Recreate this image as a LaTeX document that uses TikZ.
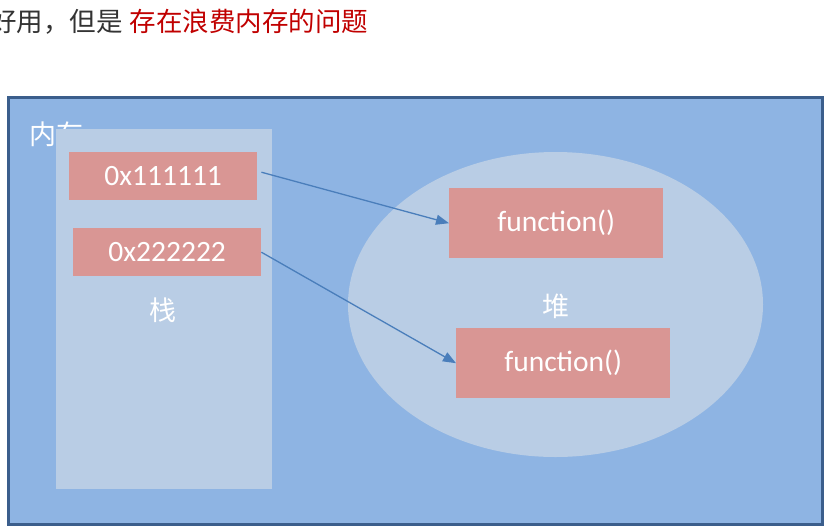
\documentclass[tikz,border=0pt]{standalone}
\usepackage{fontspec}
\newfontfamily\cjk{Noto Sans CJK SC}
\newfontfamily\calfont{Carlito}
\usetikzlibrary{arrows.meta,calc,shapes.geometric}
\definecolor{outerfill}{HTML}{8EB4E3}
\definecolor{outerline}{HTML}{3B5E8C}
\definecolor{lightfill}{HTML}{B9CDE5}
\definecolor{boxfill}{HTML}{D99694}
\definecolor{arrowcol}{HTML}{4A7EBB}
\definecolor{redtext}{HTML}{C00000}
\definecolor{graytext}{HTML}{333333}
\tikzset{
  membox/.style={fill=boxfill, draw=none, inner sep=0pt, anchor=north west},
  boxtext/.style={text=white, font=\fontsize{29.5}{31}\selectfont\calfont},
  cjklabel/.style={text=white, inner sep=0pt, font=\fontsize{27}{29}\selectfont\cjk},
  ptr/.style={draw=arrowcol, line width=1.3pt, -{Triangle[length=13pt,width=10pt]}}
}
\begin{document}
\begin{tikzpicture}[x=1pt,y=-1pt]
\useasboundingbox (0,0) rectangle (829,528);
\node[anchor=west, inner sep=0pt, font=\fontsize{26.5}{28}\selectfont\cjk] (title) at (-10,22) {\textcolor{graytext}{好用，但是}\hspace{7pt}\textcolor{redtext}{存在浪费内存的问题}};
\node[draw=outerline, fill=outerfill, line width=2.6pt, minimum width=814pt, minimum height=427pt, anchor=north west, inner sep=0pt] (outer) at (7,96) {};
\node[cjklabel, anchor=west] (memlabel) at (29,134) {内存};
\node[fill=lightfill, minimum width=216pt, minimum height=360pt, anchor=north west, inner sep=0pt] (stack) at (56,129) {};
\node[fill=lightfill, ellipse, minimum width=415pt, minimum height=305pt, inner sep=0pt] (heap) at (555.5,304.5) {};
\node[membox, minimum width=188pt, minimum height=48pt] (p1) at (69,152) {};
\node[boxtext] (p1t) at (p1.center) {0x111111};
\node[membox, minimum width=188pt, minimum height=48pt] (p2) at (73,228) {};
\node[boxtext] (p2t) at (p2.center) {0x222222};
\node[cjklabel] (stacklabel) at (163,310) {栈};
\node[cjklabel] (heaplabel) at (556,306) {堆};
\node[membox, minimum width=214pt, minimum height=70pt] (f1) at (449,188) {};
\node[boxtext] (f1t) at (f1.center) {function()};
\node[membox, minimum width=214pt, minimum height=70pt] (f2) at (456,328) {};
\node[boxtext] (f2t) at (f2.center) {function()};
\draw[ptr] ($(p1.east)+(4,-4)$) -- (f1.west);
\draw[ptr] (p2.east) -- (f2.west);
\end{tikzpicture}
\end{document}
